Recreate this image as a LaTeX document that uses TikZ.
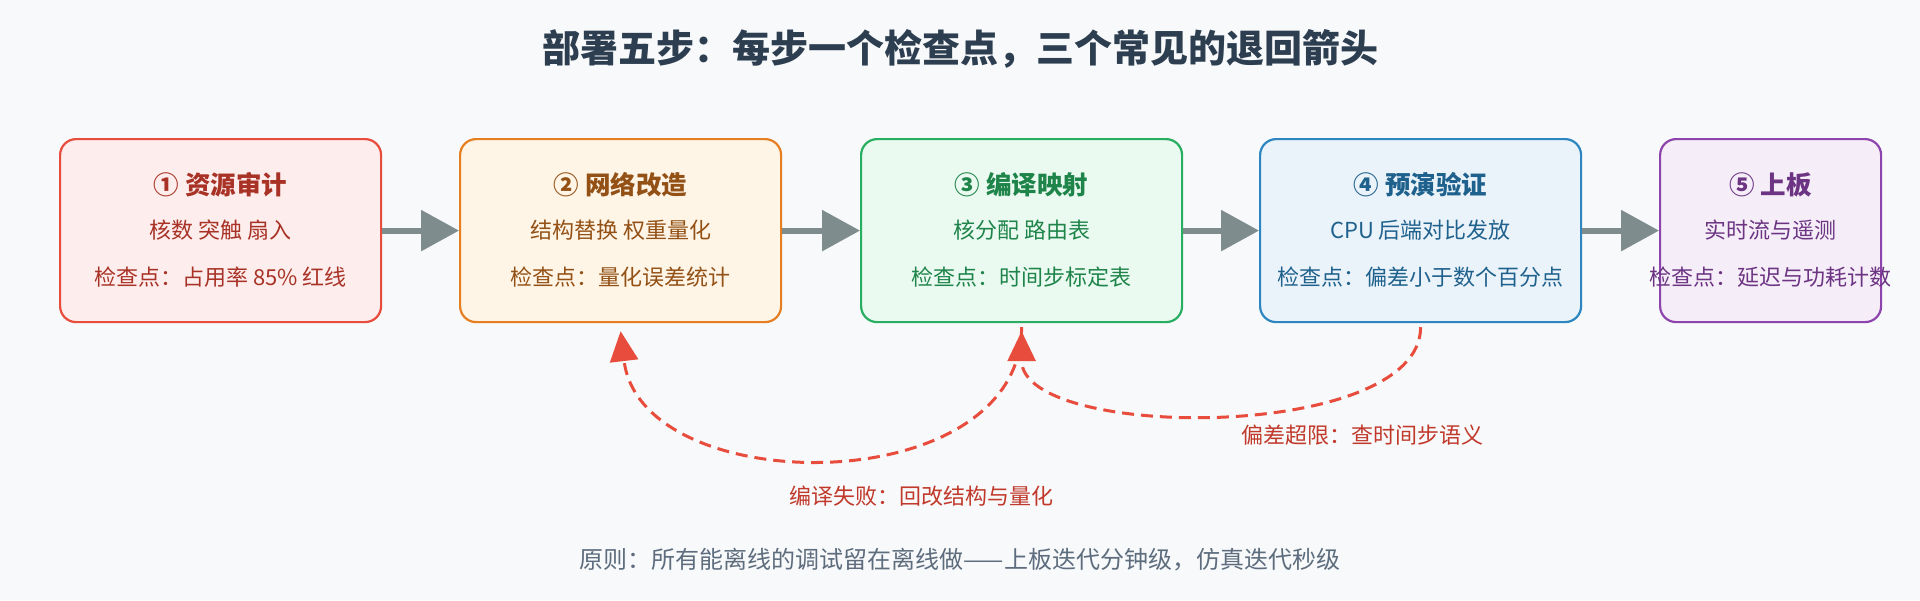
\documentclass[tikz,border=0pt]{standalone}
\usepackage{fontspec}
\setmainfont{Noto Sans CJK SC}
\usetikzlibrary{arrows.meta}
\definecolor{bg}{HTML}{F8F9FA}
\definecolor{ttl}{HTML}{2C3E50}
\definecolor{gry}{HTML}{7F8C8D}
\definecolor{redc}{HTML}{E74C3C}
\definecolor{redt}{HTML}{C0392B}
\definecolor{d1}{HTML}{E74C3C}\definecolor{f1}{HTML}{FDEDEC}\definecolor{t1}{HTML}{A93226}
\definecolor{d2}{HTML}{E67E22}\definecolor{f2}{HTML}{FEF5E7}\definecolor{t2}{HTML}{935116}
\definecolor{d3}{HTML}{27AE60}\definecolor{f3}{HTML}{EAFAF1}\definecolor{t3}{HTML}{1E8449}
\definecolor{d4}{HTML}{2E86C1}\definecolor{f4}{HTML}{EBF3FA}\definecolor{t4}{HTML}{1F618D}
\definecolor{d5}{HTML}{8E44AD}\definecolor{f5}{HTML}{F5EEF8}\definecolor{t5}{HTML}{6C3483}
\definecolor{ft}{HTML}{5D6D7E}
\tikzset{
 box/.style={draw=d#1, fill=f#1, line width=2.2pt, rounded corners=16pt, minimum height=183pt, anchor=north west},
 h/.style={font=\fontsize{25.5}{30}\selectfont\bfseries},
 t/.style={font=\fontsize{22}{26}\selectfont},
 flow/.style={draw=gry, line width=6pt, -{Triangle[length=38pt,width=40pt]}},
 back/.style={draw=redc, line width=3pt, dash pattern=on 12pt off 7pt, -{Triangle[length=30pt,width=28pt]}},
 lab/.style={font=\fontsize{22}{26}\selectfont, text=redt}
}
\begin{document}
\begin{tikzpicture}[x=1pt,y=-1pt]
\fill[bg] (0,0) rectangle (1920,600);
\useasboundingbox (0,0) rectangle (1920,600);
\node[font=\fontsize{38}{44}\selectfont\bfseries, text=ttl] (title) at (960,49) {部署五步：每步一个检查点，三个常见的退回箭头};
% boxes
\node[box=1, minimum width=321pt] (b1) at (59,138) {};
\node[box=2, minimum width=321pt] (b2) at (459,138) {};
\node[box=3, minimum width=321pt] (b3) at (860,138) {};
\node[box=4, minimum width=321pt] (b4) at (1259,138) {};
\node[box=5, minimum width=221pt] (b5) at (1659,138) {};
% texts
\foreach \n/\c/\a/\b/\d in {b1/t1/① 资源审计/核数 突触 扇入/检查点：占用率 85\% 红线,
  b2/t2/② 网络改造/结构替换 权重量化/检查点：量化误差统计,
  b3/t3/③ 编译映射/核分配 路由表/检查点：时间步标定表,
  b4/t4/④ 预演验证/CPU 后端对比发放/检查点：偏差小于数个百分点,
  b5/t5/⑤ 上板/实时流与遥测/检查点：延迟与功耗计数}{
  \node[h, text=\c] (\n h) at ([yshift=-47pt]\n.north) {\a};
  \node[t, text=\c] (\n s) at ([yshift=-92pt]\n.north) {\b};
  \node[t, text=\c] (\n c) at ([yshift=-139pt]\n.north) {\d};
}
% flow arrows
\draw[flow] (b1.east) -- (b2.west);
\draw[flow] (b2.east) -- (b3.west);
\draw[flow] (b3.east) -- (b4.west);
\draw[flow] (b4.east) -- (b5.west);
% back arrows
\coordinate (s1) at ([yshift=-4pt]b3.south);
\coordinate (e1) at ([yshift=-8pt]b2.south);
\coordinate (s2) at ([yshift=-4pt]b4.south);
\coordinate (e2) at ([yshift=-8pt]b3.south);
\draw[back] (s1) .. controls +(0,175) and +(20,170) .. (e1);
\draw[back] (s2) .. controls +(0,115) and +(0,110) .. (e2);
\node[lab] (l1) at (921,496) {编译失败：回改结构与量化};
\node[lab] (l2) at (1362,435) {偏差超限：查时间步语义};
\node[font=\fontsize{24}{28}\selectfont, text=ft] (foot) at (960,560) {原则：所有能离线的调试留在离线做——上板迭代分钟级，仿真迭代秒级};
\end{tikzpicture}
\end{document}
